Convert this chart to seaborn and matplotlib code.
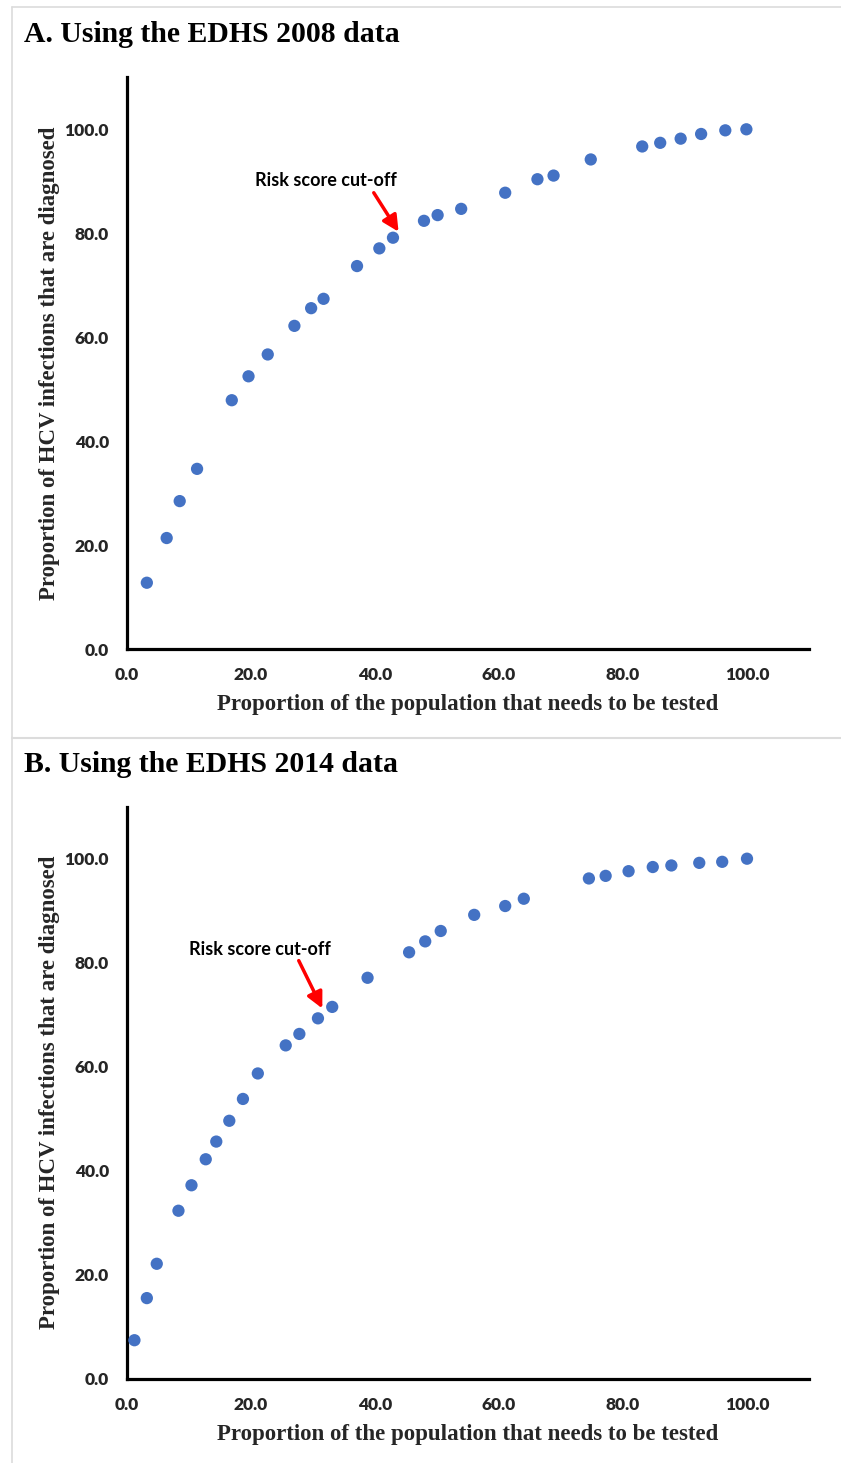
import matplotlib
matplotlib.use("Agg")
import matplotlib.pyplot as plt
import seaborn as sns
import pandas as pd
from matplotlib.lines import Line2D

# ---- Data ----
x_2008 = [3.2, 6.4, 8.5, 11.3, 16.9, 19.6, 22.7, 27.0, 29.7, 31.7, 37.1, 40.7, 42.9,
          47.9, 50.1, 53.9, 61.0, 66.2, 68.8, 74.8, 83.1, 86.0, 89.3, 92.6, 96.5, 99.9]
y_2008 = [12.8, 21.4, 28.5, 34.7, 47.9, 52.5, 56.7, 62.2, 65.6, 67.4, 73.7, 77.1, 79.15,
          82.4, 83.5, 84.7, 87.8, 90.4, 91.1, 94.2, 96.7, 97.4, 98.2, 99.1, 99.8, 100.0]

x_2014 = [1.2, 3.2, 4.8, 8.3, 10.4, 12.7, 14.4, 16.5, 18.7, 21.1, 25.6, 27.8, 30.8, 33.1,
          38.8, 45.5, 48.1, 50.6, 56.0, 61.0, 64.0, 74.5, 77.2, 80.9, 84.8, 87.8, 92.3, 96.0, 100.0]
y_2014 = [7.4, 15.5, 22.1, 32.3, 37.2, 42.2, 45.6, 49.6, 53.8, 58.7, 64.1, 66.3, 69.3, 71.5,
          77.1, 82.0, 84.1, 86.1, 89.2, 90.9, 92.3, 96.2, 96.7, 97.6, 98.4, 98.7, 99.2, 99.4, 100.0]

ticks = [0, 20, 40, 60, 80, 100]
tick_labels = ["0.0", "20.0", "40.0", "60.0", "80.0", "100.0"]

titles = ["A. Using the EDHS 2008 data", "B. Using the EDHS 2014 data"]
xlabel = "Proportion of the population that needs to be tested"
ylabel = "Proportion of HCV infections that are diagnosed"
annot_text = "Risk score cut-off"
# annotation (text position, arrow tail, arrow head) in data units
annots = [((32.1, 90.1), (39.8, 87.8), (43.8, 80.3)),
          ((21.4, 82.6), (27.7, 80.4), (31.5, 71.2))]

sns.set_theme(style="white")
plt.rcParams['font.family'] = ['DejaVu Sans']

W, H = 841, 1463
fig = plt.figure(figsize=(W / 100, H / 100), dpi=100)

# panel borders
border_col = "#dcdcdc"
fig.add_artist(Line2D([12 / W, 12 / W], [0, 1 - 7 / H], transform=fig.transFigure, color=border_col, lw=1.2))
fig.add_artist(Line2D([12 / W, 1], [1 - 7 / H, 1 - 7 / H], transform=fig.transFigure, color=border_col, lw=1.2))
fig.add_artist(Line2D([12 / W, 1], [1 - 738 / H, 1 - 738 / H], transform=fig.transFigure, color=border_col, lw=1.5))

serif = ['Liberation Serif', 'DejaVu Serif']
sans = ['Lato', 'DejaVu Sans']

panels = [
    (x_2008, y_2008, 649.3, 34),
    (x_2014, y_2014, 1378.7, 764),
]

for i, (xs, ys, y0px, title_y) in enumerate(panels):
    left = 127 / W
    width = (809 - 127) / W
    h_px = 110 * 5.2
    bottom = 1 - y0px / H
    ax = fig.add_axes([left, bottom, width, h_px / H])
    df = pd.DataFrame({"x": xs, "y": ys})
    sns.scatterplot(data=df, x="x", y="y", ax=ax, color="#4472C4", s=78,
                    edgecolor="none", linewidth=0, zorder=3)
    ax.set_xlim(0, 110)
    ax.set_ylim(0, 110)
    ax.set_xticks(ticks)
    ax.set_yticks(ticks)
    ax.set_xticklabels(tick_labels, fontfamily=sans, fontweight="heavy", fontsize=12.5)
    ax.set_yticklabels(tick_labels, fontfamily=sans, fontweight="heavy", fontsize=12.5)
    ax.tick_params(axis="x", direction="out", length=4, width=2, color="black", pad=9)
    ax.tick_params(axis="y", direction="inout", length=8, width=2, color="black", pad=9)
    for s in ["top", "right"]:
        ax.spines[s].set_visible(False)
    for s in ["left", "bottom"]:
        ax.spines[s].set_color("black")
        ax.spines[s].set_linewidth(2.3)
    ax.set_xlabel(xlabel, fontfamily=serif, fontweight="bold", fontsize=16.5, labelpad=8)
    ax.set_ylabel(ylabel, fontfamily=serif, fontweight="bold", fontsize=16.5, labelpad=3)
    ax.grid(False)

    (tx, ty), tail, head = annots[i]
    ax.text(tx, ty, annot_text, ha="center", va="center", fontfamily=sans,
            fontweight="bold", fontsize=13, color="black")
    ax.annotate("", xy=head, xytext=tail,
                arrowprops=dict(arrowstyle="-|>,head_length=0.8,head_width=0.4",
                                color="#ff0000", lw=2.5, shrinkA=0, shrinkB=0))

    fig.text(24 / W, 1 - title_y / H, titles[i], ha="left", va="center",
             fontfamily=serif, fontweight="bold", fontsize=21.4, color="black")

fig.savefig("out.png", dpi=100, facecolor="white")
